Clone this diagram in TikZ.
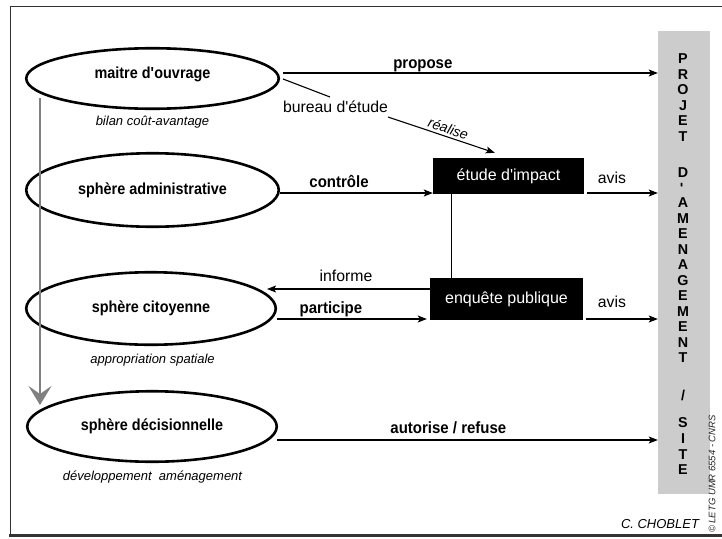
\documentclass[tikz,border=0pt]{standalone}
\usepackage{fontspec}
\setmainfont{Liberation Sans}
\newfontfamily\narrowbold{Liberation Sans Bold}[FakeStretch=0.9]
\newfontfamily\labbold{Liberation Sans Bold}[FakeStretch=0.92]
\usetikzlibrary{shapes.geometric,arrows.meta,calc}
\definecolor{graybox}{RGB}{204,204,204}
\definecolor{garrow}{RGB}{128,128,128}
\newcommand{\apos}{\textquotesingle}
\begin{document}
\begin{tikzpicture}[x=1pt,y=-1pt,
  ell/.style={ellipse,draw,line width=2.6pt,inner sep=0pt,font=\narrowbold\fontsize{16}{18}\selectfont},
  arr/.style={line width=1.1pt,-{Stealth[length=9pt,width=7pt,inset=2pt]}},
  ln/.style={line width=1.1pt},
  blab/.style={font=\labbold\fontsize{16.3}{18}\selectfont,anchor=base,inner sep=0pt},
  rlab/.style={font=\fontsize{15.8}{18}\selectfont,anchor=base,inner sep=0pt},
  ilab/.style={font=\itshape\fontsize{13}{15}\selectfont,anchor=base,inner sep=0pt},
  bbox/.style={fill=black,text=white,inner sep=0pt,font=\fontsize{16}{18}\selectfont},
  col/.style={font=\bfseries\fontsize{14.3}{16}\selectfont,inner sep=0pt},
]
\useasboundingbox (0,0) rectangle (722,538);

% frame
\draw[line width=1pt,draw=black!80] (723,6.5) -- (10.5,6.5) -- (10.5,535);
\draw[line width=3pt,draw=black!80] (9,535) -- (723,535);

% ellipses
\node[ell,minimum width=252.5pt,minimum height=60.5pt] (e1) at (152.5,78.5) {\raisebox{0pt}[0pt][0pt]{maitre d\apos ouvrage}};
\node[ell,minimum width=252.5pt,minimum height=73.5pt] (e2) at (152.5,190) {sphère administrative};
\node[ell,minimum width=249.5pt,minimum height=72.5pt] (e3) at (151,308.5) {sphère citoyenne};
\node[ell,minimum width=249.5pt,minimum height=70.5pt] (e4) at (152,426.5) {sphère décisionnelle};

% subtitles
\node[ilab] (s1) at (152.5,125.5) {bilan coût-avantage};
\node[ilab] (s3) at (152.5,363) {appropriation spatiale};
\node[ilab] (s4) at (152.5,480) {développement~ aménagement};

% black boxes
\node[bbox,minimum width=151pt,minimum height=36pt] (etude) at (508.5,176) {étude d\apos impact};
\node[bbox,minimum width=153pt,minimum height=42pt] (enq) at (506.5,299) {enquête publique};

% project column
\node[fill=graybox,minimum width=52pt,minimum height=463pt,inner sep=0pt] (projet) at (684,262.5) {};
\foreach \l/\y [count=\i] in {P/59,R/74.5,O/90,J/105.5,E/121,T/136.5,D/173,
  A/203,M/218.5,E/234,N/249.5,A/265,G/280.5,E/296,M/311.5,E/327,N/342.5,T/358,
  S/423,I/438.7,T/454.4,E/470}
  \node[col] (c\i) at (683,\y) {\l};
\node[col,rotate=90] (hy) at (683,185) {-};
\node[col] (sl) at (683,395) {/};

% gray vertical arrow
\coordinate (g1) at (40,98);
\coordinate (g2) at (40,405);
\draw[line width=1.6pt,draw=garrow,-{Stealth[length=19pt,width=23pt,inset=8pt]}] (g1) -- (g2);

% propose
\coordinate (pA) at ($(e1.east)+(3,-5.5)$);
\draw[arr] (pA) -- (pA -| projet.west) node[blab,pos=0.373,yshift=5pt] (lprop) {propose};

% bureau d'etude
\node[rlab] (bur) at (335.5,112) {bureau d\apos étude};
\coordinate (b1) at ($(e1.east)+(3,0.5)$);
\coordinate (b2) at ($(bur.base)+(-5.5,-15)$);
\draw[ln] (b1) -- (b2);
\coordinate (b3) at ($(bur.base)+(52.5,5)$);
\coordinate (b4) at ($(etude.north west)+(62,-5)$);
\draw[arr] (b3) -- (b4) node[pos=0.54,sloped,above,inner sep=2.5pt,font=\itshape\fontsize{14}{16}\selectfont] (lreal) {réalise};

% controle
\coordinate (cA) at ($(e2.east)+(0,3)$);
\draw[arr] (cA) -- (cA -| etude.west) node[blab,pos=0.386,yshift=6pt] (lctrl) {contrôle};

% avis 1
\coordinate (a1) at ($(etude.east)+(3,17)$);
\draw[arr] (a1) -- (a1 -| projet.west) node[rlab,pos=0.35,yshift=10pt] (lavis1) {avis};

% vertical link
\coordinate (v1) at ($(etude.south west)+(19,0)$);
\draw[ln] (v1) -- (v1 |- enq.north);

% informe
\coordinate (iA) at ($(enq.west)+(0,-10)$);
\coordinate (iB) at ($(e3.east)+(-10,-19.5)$);
\draw[arr] (iA) -- (iB) node[rlab,pos=0.515,yshift=8pt] (linf) {informe};

% participe
\coordinate (pp) at ($(e3.east)+(0,10.5)$);
\draw[arr,shorten >=3pt] (pp) -- (pp -| enq.west) node[blab,pos=0.353,yshift=6pt] (lpart) {participe};

% avis 2
\coordinate (a2) at ($(enq.east)+(3,20)$);
\draw[arr] (a2) -- (a2 -| projet.west) node[rlab,pos=0.36,yshift=12pt] (lavis2) {avis};

% autorise / refuse
\coordinate (au) at ($(e4.east)+(-1,13.5)$);
\draw[arr] (au) -- (au -| projet.west) node[blab,pos=0.45,yshift=6.5pt] (laut) {autorise / refuse};

% credits
\node[ilab] (cb) at (660,528) {C. CHOBLET};
\node[font=\itshape\fontsize{9.5}{10}\selectfont,rotate=90,text=black!85,inner sep=0pt] (cp) at (712,474) {© LETG UMR 6554 - CNRS};
\end{tikzpicture}
\end{document}
